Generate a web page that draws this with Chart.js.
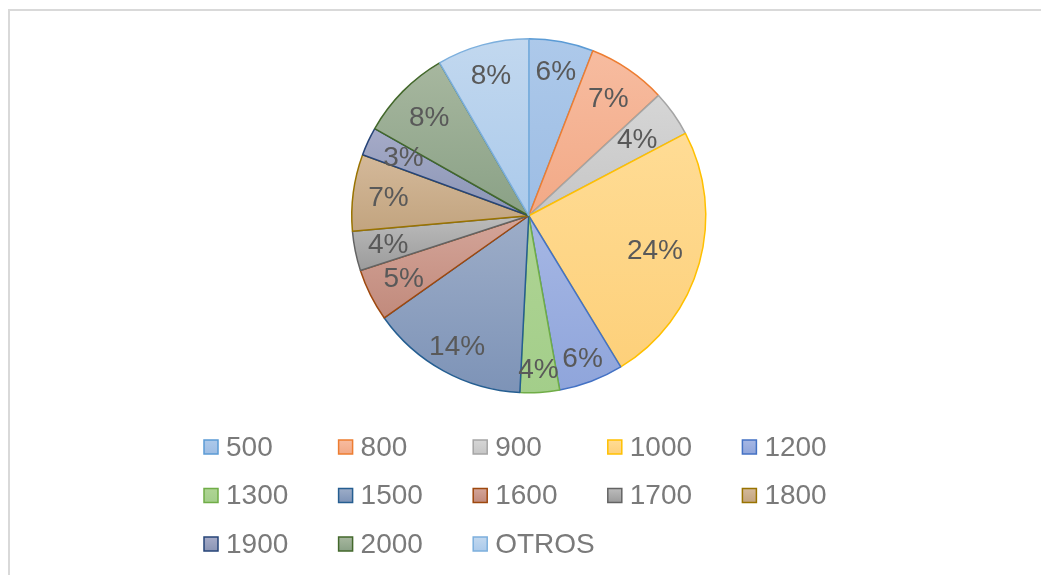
<!DOCTYPE html>
<html>
<head>
<meta charset="utf-8">
<script src="https://cdn.jsdelivr.net/npm/chart.js@4/dist/chart.umd.min.js"></script>
<style>
  html, body { margin: 0; padding: 0; background: #ffffff; }
  #wrap { position: relative; width: 1041px; height: 575px; }
</style>
</head>
<body>
<div id="wrap"><canvas id="c" width="1041" height="575"></canvas></div>
<script>
// ---- data ----
const categories = ['500', '800', '900', '1000', '1200', '1300', '1500', '1600', '1700', '1800', '1900', '2000', 'OTROS'];
const shares = [5.9, 7.2, 4.2, 24.0, 5.9, 3.6, 14.4, 4.8, 3.6, 7.0, 2.6, 8.4, 8.4];

// ---- styles ----
const fillTop = ['#adc9ea', '#f7bca0', '#d6d6d6', '#ffdc95', '#a6b7e4', '#afd494', '#9dadc8', '#d4a599', '#bcbcbc', '#d4b99a', '#a6abc8', '#a7b79f', '#c2d8ef'];
const fillBottom = ['#9dbde4', '#f2a986', '#c6c6c6', '#fdd07a', '#8fa5db', '#a3ce8a', '#7d93b7', '#c18a7c', '#9b9b9b', '#c2a47f', '#8a95b5', '#8aa186', '#abcaeb'];
const borderCols = ['#5b9bd5', '#ed7d31', '#a5a5a5', '#ffc000', '#4472c4', '#70ad47', '#255e91', '#9e480e', '#636363', '#997300', '#264478', '#43682b', '#7cafdd'];
const labelRadiusFrac = [0.83, 0.80, 0.75, 0.74, 0.86, 0.87, 0.84, 0.79, 0.81, 0.80, 0.78, 0.79, 0.82];

const FONT = '"Liberation Sans", Arial, "DejaVu Sans", sans-serif';

function sliceFill(ctx) {
  const chart = ctx.chart;
  const area = chart.chartArea;
  const i = ctx.dataIndex;
  if (!area || i === undefined) return fillTop[i || 0];
  const total = shares.reduce((a, b) => a + b, 0);
  let cum = 0;
  for (let k = 0; k < i; k++) cum += shares[k];
  const a0 = -Math.PI / 2 + (cum / total) * 2 * Math.PI;
  const a1 = a0 + (shares[i] / total) * 2 * Math.PI;
  const cx = (area.left + area.right) / 2;
  const cy = (area.top + area.bottom) / 2;
  const r = Math.min(area.right - area.left, area.bottom - area.top) / 2;
  let minY = cy, maxY = cy;
  for (let s = 0; s <= 60; s++) {
    const a = a0 + (a1 - a0) * s / 60;
    const y = cy + r * Math.sin(a);
    minY = Math.min(minY, y); maxY = Math.max(maxY, y);
  }
  const g = chart.ctx.createLinearGradient(0, minY, 0, maxY);
  g.addColorStop(0, fillTop[i]);
  g.addColorStop(1, fillBottom[i]);
  return g;
}

const framePlugin = {
  id: 'frame',
  beforeDraw(chart) {
    const c = chart.ctx;
    c.save();
    c.fillStyle = '#ffffff';
    c.fillRect(0, 0, chart.width, chart.height);
    c.strokeStyle = '#d9d9d9';
    c.lineWidth = 2;
    c.strokeRect(9, 10, chart.width + 20, chart.height + 20);
    c.restore();
  }
};

const labelPlugin = {
  id: 'sliceLabels',
  afterDatasetsDraw(chart) {
    const c = chart.ctx;
    const meta = chart.getDatasetMeta(0);
    const total = shares.reduce((a, b) => a + b, 0);
    c.save();
    c.font = '28px ' + FONT;
    c.fillStyle = '#595959';
    c.textAlign = 'center';
    c.textBaseline = 'middle';
    meta.data.forEach((arc, i) => {
      const p = arc.getProps(['x', 'y', 'startAngle', 'endAngle', 'outerRadius'], true);
      const mid = (p.startAngle + p.endAngle) / 2;
      const rr = p.outerRadius * labelRadiusFrac[i];
      const txt = Math.round(shares[i] / total * 100) + '%';
      c.fillText(txt, p.x + rr * Math.cos(mid), p.y + rr * Math.sin(mid) + 1);
    });
    c.restore();
  }
};

const legendPlugin = {
  id: 'gridLegend',
  afterDraw(chart) {
    const c = chart.ctx;
    const colX0 = 204, colStep = 134.6, perRow = 5;
    const rowY0 = 447, rowStep = 48.5, box = 14;
    c.save();
    c.font = '28px ' + FONT;
    c.textBaseline = 'middle';
    c.textAlign = 'left';
    categories.forEach((name, i) => {
      const col = i % perRow, row = Math.floor(i / perRow);
      const x = colX0 + col * colStep;
      const y = rowY0 + row * rowStep;
      const g = c.createLinearGradient(0, y - box / 2, 0, y + box / 2);
      g.addColorStop(0, fillTop[i]);
      g.addColorStop(1, fillBottom[i]);
      c.fillStyle = g;
      c.fillRect(x, y - box / 2, box, box);
      c.strokeStyle = borderCols[i];
      c.lineWidth = 1.5;
      c.strokeRect(x, y - box / 2, box, box);
      c.fillStyle = '#7a7a7a';
      c.fillText(name, x + 22, y + 1);
    });
    c.restore();
  }
};

new Chart(document.getElementById('c'), {
  type: 'pie',
  data: {
    labels: categories,
    datasets: [{
      data: shares,
      backgroundColor: sliceFill,
      borderColor: borderCols,
      borderWidth: 1.5,
      hoverOffset: 0
    }]
  },
  options: {
    responsive: false,
    animation: false,
    devicePixelRatio: 1,
    layout: { padding: { top: 38, bottom: 181.5, left: 351, right: 334.5 } },
    plugins: {
      legend: { display: false },
      tooltip: { enabled: false },
      title: { display: false }
    }
  },
  plugins: [framePlugin, labelPlugin, legendPlugin]
});
</script>
</body>
</html>
